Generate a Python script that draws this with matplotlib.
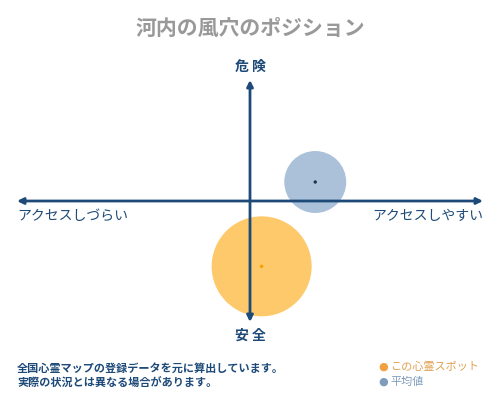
import matplotlib.pyplot as plt

plt.rcParams['font.family'] = ['Noto Sans CJK JP', 'DejaVu Sans']

# position scores (-1..1) and bubble sizes
labels = ['この心霊スポット', '平均値']
x_vals = [0.05, 0.28]
y_vals = [-0.54, 0.157]
sizes = [5184, 1990]
fill_colors = ['#fdc96a', '#abc0d9']
dot_colors = ['#f5a000', '#1f3550']

title = '河内の風穴のポジション'
axis_labels = {'top': '危 険', 'bottom': '安 全',
               'left': 'アクセスしづらい', 'right': 'アクセスしやすい'}
notes = ['全国心霊マップの登録データを元に算出しています。',
         '実際の状況とは異なる場合があります。']
legend_text_colors = ['#e0a050', '#7f9cbc']

navy = '#1d4a78'

fig = plt.figure(figsize=(5, 4), dpi=100)
ax = fig.add_axes([17 / 500, 0.195, 466 / 500, 0.605])
ax.set_xlim(-1, 1)
ax.set_ylim(-1, 1)
ax.axis('off')

# bubbles
for xv, yv, s, fc, dc in zip(x_vals, y_vals, sizes, fill_colors, dot_colors):
    ax.scatter(xv, yv, s=s, color=fc, edgecolors='none', zorder=1, clip_on=False)
    ax.scatter(xv, yv, s=6, color=dc, edgecolors='none', zorder=4, clip_on=False)

# axes with arrows
arrow = dict(arrowstyle='<|-|>', color=navy, lw=2, mutation_scale=9,
             shrinkA=0, shrinkB=0)
ax.annotate('', xy=(1, 0), xytext=(-1, 0), arrowprops=arrow, zorder=3)
ax.annotate('', xy=(0, 1), xytext=(0, -1), arrowprops=arrow, zorder=3)

fig.text(0.5, 1 - 28 / 400, title, ha='center', va='center',
         fontsize=15, color='#999999', fontweight='bold')
fig.text(0.5, 1 - 67 / 400, axis_labels['top'], ha='center', va='center',
         fontsize=10, color=navy, fontweight='bold')
fig.text(0.5, 1 - 336 / 400, axis_labels['bottom'], ha='center', va='center',
         fontsize=10, color=navy, fontweight='bold')
fig.text(17 / 500, 1 - 216 / 400, axis_labels['left'], ha='left', va='center',
         fontsize=10, color=navy)
fig.text(483 / 500, 1 - 216 / 400, axis_labels['right'], ha='right', va='center',
         fontsize=10, color=navy)

# footnotes
for i, line in enumerate(notes):
    fig.text(17 / 500, 1 - (368 + 15 * i) / 400, line, ha='left', va='center',
             fontsize=8, color=navy, fontweight='bold')

# legend
for i, (lab, tc) in enumerate(zip(labels, legend_text_colors)):
    yy = 1 - (367 + 15 * i) / 400
    fig.text(383 / 500, yy, '●', ha='center', va='center', fontsize=8,
             color=['#f0a040', '#7f9cbc'][i], family='DejaVu Sans')
    fig.text(390 / 500, yy, lab, ha='left', va='center', fontsize=8, color=tc)

fig.savefig('out.png', dpi=100)
